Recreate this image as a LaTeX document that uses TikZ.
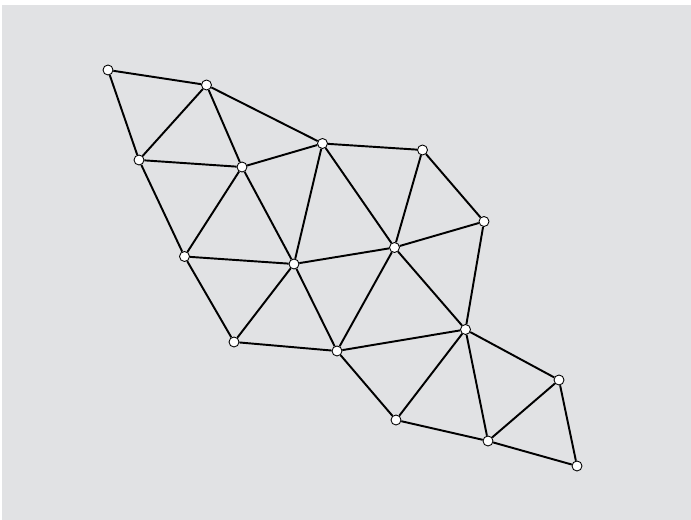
\documentclass[tikz,border=0pt]{standalone}
\usepackage{xcolor}
\usepackage{tikz}
\definecolor{meshbg}{HTML}{E1E2E4}

\begin{document}
\begin{tikzpicture}[x=0.02cm, y=-0.02cm, line width=1.1pt,
        vtx/.style={draw, circle, fill=white, line width=0.5pt, inner sep=0pt, minimum size=0.2cm}]
        \useasboundingbox (0,0) rectangle (691,520);
        \fill[meshbg] (2,5) rectangle (691,520);
        \node[vtx] (v1) at (108,70) {};
        \node[vtx] (v2) at (206.5,85) {};
        \node[vtx] (v3) at (139,160) {};
        \node[vtx] (v4) at (242,167) {};
        \node[vtx] (v5) at (322.5,143.5) {};
        \node[vtx] (v6) at (422.5,150) {};
        \node[vtx] (v7) at (484,221.5) {};
        \node[vtx] (v8) at (394.5,247.5) {};
        \node[vtx] (v9) at (294,264) {};
        \node[vtx] (v10) at (184.5,256.5) {};
        \node[vtx] (v11) at (234,342) {};
        \node[vtx] (v12) at (337,351) {};
        \node[vtx] (v13) at (465.5,329.5) {};
        \node[vtx] (v14) at (559,380) {};
        \node[vtx] (v15) at (396,420) {};
        \node[vtx] (v16) at (488,441) {};
        \node[vtx] (v17) at (577,466) {};
        \draw (v1) -- (v2); \draw (v1) -- (v3); \draw (v2) -- (v3);
        \draw (v2) -- (v4); \draw (v2) -- (v5); \draw (v3) -- (v4);
        \draw (v3) -- (v10); \draw (v4) -- (v5); \draw (v4) -- (v10);
        \draw (v4) -- (v9); \draw (v5) -- (v9); \draw (v5) -- (v6);
        \draw (v5) -- (v8); \draw (v6) -- (v8); \draw (v6) -- (v7);
        \draw (v7) -- (v8); \draw (v7) -- (v13); \draw (v8) -- (v9);
        \draw (v8) -- (v13); \draw (v8) -- (v12); \draw (v9) -- (v10);
        \draw (v9) -- (v11); \draw (v9) -- (v12); \draw (v10) -- (v11);
        \draw (v11) -- (v12); \draw (v12) -- (v13); \draw (v12) -- (v15);
        \draw (v13) -- (v15); \draw (v13) -- (v16); \draw (v13) -- (v14);
        \draw (v15) -- (v16); \draw (v16) -- (v14); \draw (v16) -- (v17);
        \draw (v14) -- (v17);
    \end{tikzpicture}
\end{document}
